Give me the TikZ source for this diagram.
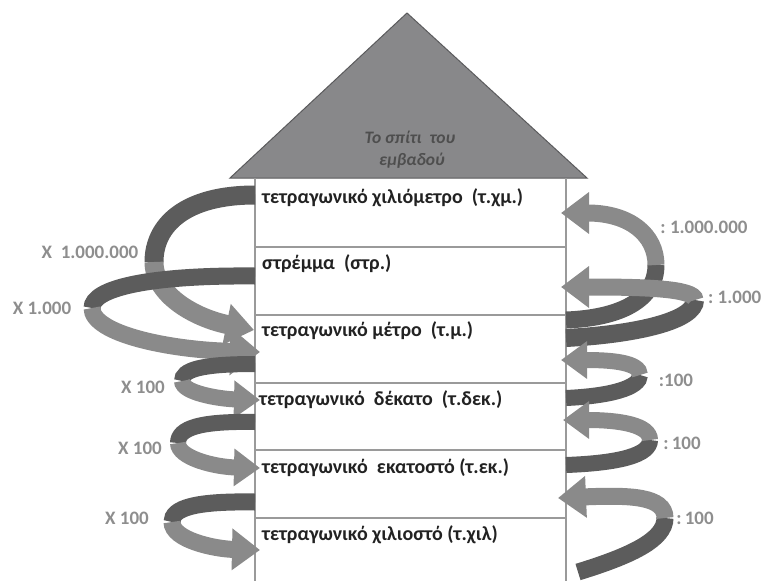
\documentclass[tikz,border=0pt]{standalone}
\usepackage{fontspec}
\setmainfont{Carlito}
\usetikzlibrary{arrows.meta}
\definecolor{roofc}{HTML}{88888A}
\definecolor{roofedge}{HTML}{5A5A5C}
\definecolor{bandD}{HTML}{5C5C5C}
\definecolor{bandL}{HTML}{8A8A8A}
\definecolor{lblc}{HTML}{8E8E8E}
\definecolor{gridc}{HTML}{9A9A9A}
\definecolor{txtc}{HTML}{222222}
\tikzset{
  backband/.style={draw=bandD, line width=#1},
  frontband/.style={draw=bandL, line width=#1, -{Triangle[length=30pt,width=46pt]}},
  midfront/.style={draw=bandL, line width=#1, -{Triangle[length=28pt,width=40pt]}},
  smallfront/.style={draw=bandL, line width=#1, -{Triangle[length=26pt,width=36pt]}},
  rowtxt/.style={anchor=west, inner sep=0pt, font=\fontsize{20}{22}\selectfont\bfseries, text=txtc},
  lbl/.style={inner sep=0pt, font=\fontsize{19}{21}\selectfont\bfseries, text=lblc},
  rooftxt/.style={inner sep=0pt, font=\fontsize{17.5}{20}\selectfont\bfseries\itshape, text=txtc!80, align=center},
}
\begin{document}
\begin{tikzpicture}[x=1pt,y=-1pt]
\useasboundingbox (0,0) rectangle (765,581);
% roof
\path[fill=roofc, draw=roofedge, line width=1pt] (230,178) -- (407,13) -- (587,178) -- cycle;
\node[rooftxt] (rt1) at (410,137) {Το σπίτι\ \ του};
\node[rooftxt] (rt2) at (412,161) {εμβαδού};
% house body
\draw[gridc, line width=1.3pt] (255,178) -- (255,581) (566,178) -- (566,581);
\foreach \yy in {247,315,383,450,518} \draw[gridc, line width=1.3pt] (255,\yy) -- (566,\yy);
% row texts
\node[rowtxt] (r1) at (262,198) {τετραγωνικό χιλιόμετρο\ \ (τ.χμ.)};
\node[rowtxt] (r2) at (262,264) {στρέμμα\ \ (στρ.)};
\node[rowtxt] (r3) at (262,331) {τετραγωνικό μέτρο\ \ (τ.μ.)};
\node[rowtxt] (r4) at (259,400) {τετραγωνικό\ \ δέκατο\ \ (τ.δεκ.)};
\node[rowtxt] (r5) at (262,468) {τετραγωνικό\ \ εκατοστό\ (τ.εκ.)};
\node[rowtxt] (r6) at (262,535) {τετραγωνικό χιλιοστό\ (τ.χιλ)};
% arrow anchor coordinates
\coordinate (a1s) at (255,195); \coordinate (a1m) at (154,262); \coordinate (a1e) at (254,330);
\coordinate (a2s) at (255,276); \coordinate (a2m) at (92,308);  \coordinate (a2e) at (260,352);
\coordinate (a3s) at (255,364); \coordinate (a3m) at (182,381); \coordinate (a3e) at (260,400);
\coordinate (a4s) at (255,422); \coordinate (a4m) at (178,443); \coordinate (a4e) at (260,468);
\coordinate (a5s) at (255,502); \coordinate (a5m) at (172,522); \coordinate (a5e) at (260,550);
\coordinate (b1s) at (566,320); \coordinate (b1m) at (656,265); \coordinate (b1e) at (561,213);
\coordinate (b2s) at (566,338); \coordinate (b2m) at (695,300); \coordinate (b2e) at (561,287);
\coordinate (b3s) at (566,398); \coordinate (b3m) at (640,375); \coordinate (b3e) at (561,360);
\coordinate (b4s) at (566,465); \coordinate (b4m) at (650,440); \coordinate (b4e) at (563,420);
\coordinate (b5s) at (578,572); \coordinate (b5m) at (665,518); \coordinate (b5e) at (558,498);
% left arrows
\draw[backband=19pt] (a1s) .. controls (185,195) and (154,225) .. (a1m);
\draw[midfront=19pt] (a1m) .. controls (154,295) and (195,318) .. (a1e);
\draw[backband=17pt] (a2s) .. controls (150,275) and (92,288) .. (a2m);
\draw[frontband=17pt] (a2m) .. controls (92,334) and (170,350) .. (a2e);
\draw[backband=16pt] (a3s) .. controls (200,364) and (182,370) .. (a3m);
\draw[smallfront=16pt] (a3m) .. controls (182,393) and (220,399) .. (a3e);
\draw[backband=16pt] (a4s) .. controls (200,421) and (178,428) .. (a4m);
\draw[smallfront=16pt] (a4m) .. controls (178,458) and (215,467) .. (a4e);
\draw[backband=17pt] (a5s) .. controls (195,501) and (172,508) .. (a5m);
\draw[midfront=17pt] (a5m) .. controls (172,540) and (215,549) .. (a5e);
% right arrows
\draw[backband=17pt] (b1s) .. controls (620,318) and (656,300) .. (b1m);
\draw[midfront=17pt] (b1m) .. controls (656,235) and (630,213) .. (b1e);
\draw[backband=18pt] (b2s) .. controls (640,334) and (695,320) .. (b2m);
\draw[midfront=17pt] (b2m) .. controls (695,288) and (640,287) .. (b2e);
\draw[backband=16pt] (b3s) .. controls (610,396) and (640,388) .. (b3m);
\draw[smallfront=16pt] (b3m) .. controls (640,362) and (610,360) .. (b3e);
\draw[backband=16pt] (b4s) .. controls (620,463) and (650,455) .. (b4m);
\draw[smallfront=16pt] (b4m) .. controls (650,425) and (620,420) .. (b4e);
\draw[backband=17pt] (b5s) .. controls (630,556) and (665,540) .. (b5m);
\draw[midfront=17pt] (b5m) .. controls (665,496) and (630,495) .. (b5e);
% labels
\node[lbl] (l1) at (90,252) {X\ \ 1.000.000};
\node[lbl] (l2) at (42,308) {X 1.000};
\node[lbl] (l3) at (143,387) {X\ 100};
\node[lbl] (l4) at (140,448) {X 100};
\node[lbl] (l5) at (127,518) {X 100};
\node[lbl] (l6) at (704,227) {:\ 1.000.000};
\node[lbl, anchor=west] (l7) at (708,297) {:\ 1.000};
\node[lbl] (l8) at (676,380) {:100};
\node[lbl] (l9) at (682,443) {:\,100};
\node[lbl] (l10) at (695,518) {:\,100};
\end{tikzpicture}
\end{document}
